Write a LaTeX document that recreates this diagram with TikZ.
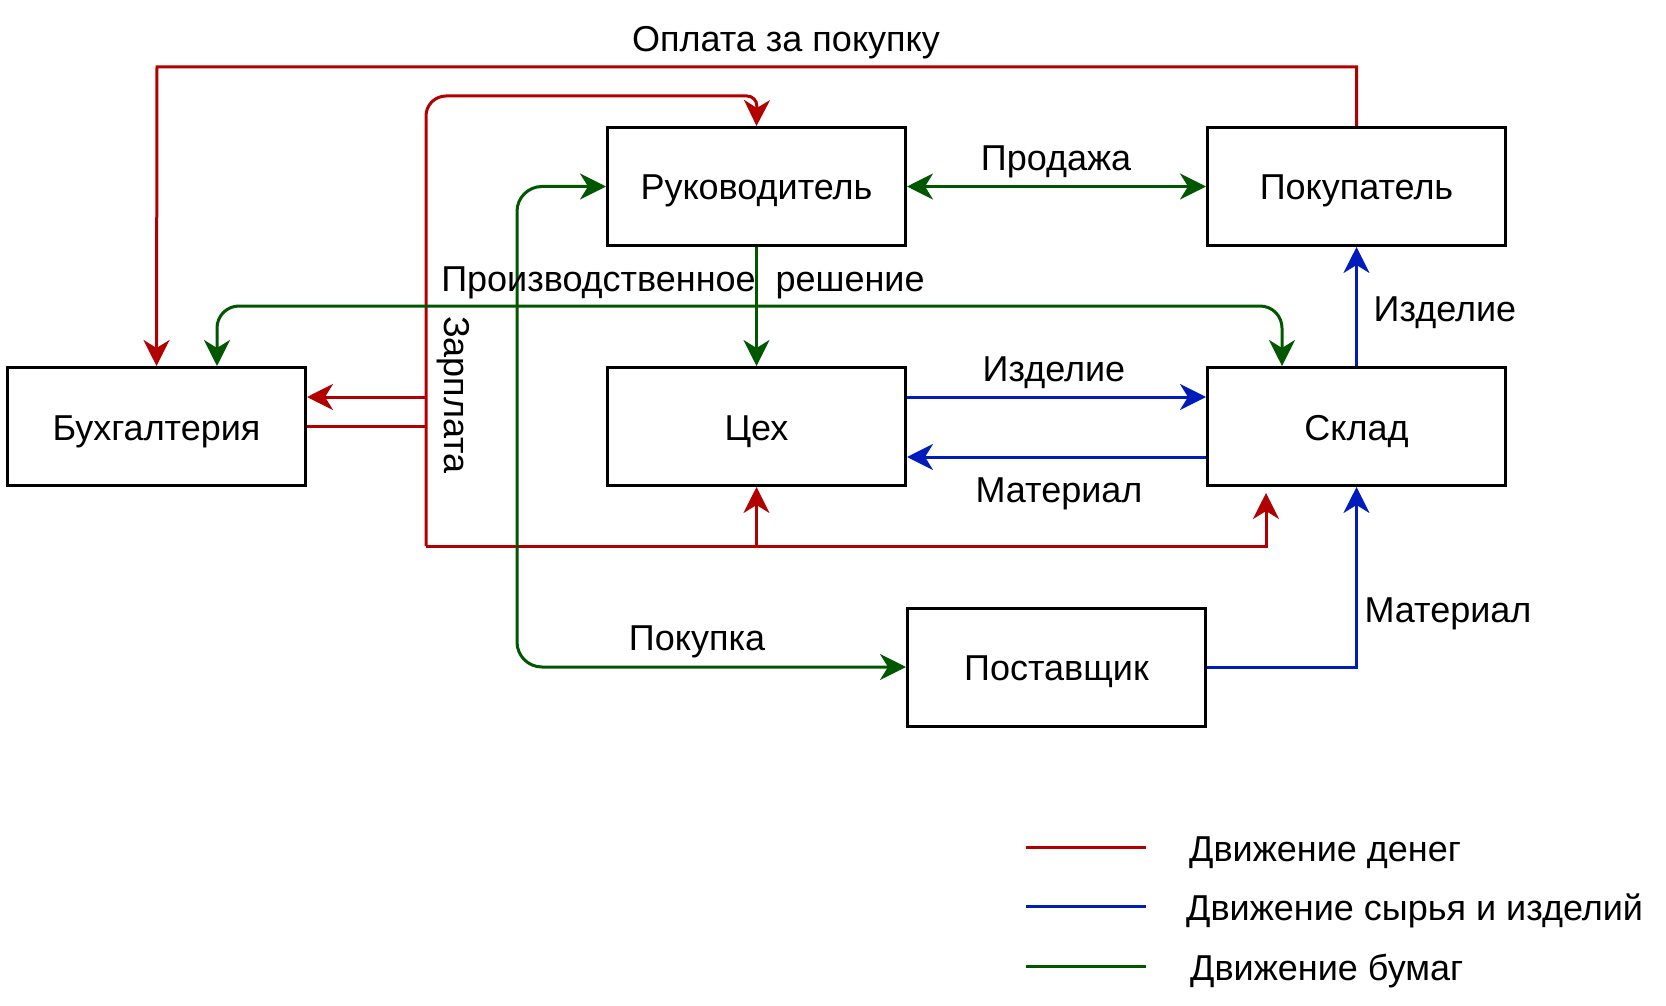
\documentclass[tikz,border=0pt]{standalone}
\usepackage{fontspec}
\setmainfont{Liberation Sans}
\usetikzlibrary{arrows.meta}
\definecolor{cred}{HTML}{B20000}
\definecolor{cblue}{HTML}{001DBC}
\definecolor{cgreen}{HTML}{005700}
\begin{document}
\begin{tikzpicture}[x=1pt,y=-1pt,
  box/.style={draw=black,line width=3pt,minimum width=298pt,minimum height=118pt,inner sep=0pt,font=\fontsize{36pt}{43pt}\selectfont,text height=33pt,text depth=6pt},
  lbl/.style={font=\fontsize{36pt}{43pt}\selectfont,inner sep=0pt,text height=33pt,text depth=6pt},
  vlbl/.style={font=\fontsize{36pt}{43pt}\selectfont,inner sep=0pt},
  con/.style={line width=3pt},
  tipend/.style={-{Stealth[length=26pt,width=26pt,inset=8pt]}},
  tipboth/.style={{Stealth[length=26pt,width=26pt,inset=8pt]}-{Stealth[length=26pt,width=26pt,inset=8pt]}},
]
\useasboundingbox[fill=white] (0,0) rectangle (1666,1006);

% boxes
\node[box] (ruk) at (756.5,186.5) {Руководитель};
\node[box] (pok) at (1356.5,186.5) {Покупатель};
\node[box] (buh) at (156.5,426.5) {Бухгалтерия};
\node[box] (ceh) at (756.5,426.5) {Цех};
\node[box] (skl) at (1356.5,426.5) {Склад};
\node[box] (post) at (1056.5,667) {Поставщик};

% helper coordinates
\coordinate (o1) at (157,67);
\coordinate (zc) at (426,426.5);
\coordinate (zt) at (426,96);
\coordinate (zr) at (757,96);
\coordinate (zb) at (426,546);
\coordinate (za) at (426,397);
\coordinate (sb) at (1266,546);
\coordinate (st) at (1266,493);
\coordinate (cb) at (756.5,546);
\coordinate (gl) at (217,306);
\coordinate (gr) at (1282,306);
\coordinate (gv1) at (517,186.5);
\coordinate (gv2) at (517,667);
\coordinate (bl) at (1356.5,667);

% red: money
\draw[con,cred,tipend] (pok.north) |- (o1) -- (buh.north);
\draw[con,cred] (buh.east) -- (zc);
\draw[con,cred,tipend] (zb) [rounded corners=20pt]-- (zt) [rounded corners=10pt]-- (zr) -- (ruk.north);
\draw[con,cred,tipend] (za) -- (za -| buh.east);
\draw[con,cred,tipend] (zb) -- (sb) -- (st);
\draw[con,cred,tipend] (cb) -- (ceh.south);

% green: papers
\draw[con,cgreen,tipboth] (ruk.east) -- (pok.west);
\draw[con,cgreen,tipend] (ruk.south) -- (ceh.north);
\draw[con,cgreen,tipboth,rounded corners=22pt] (gl |- buh.north) -- (gl) -- (gr) -- (gr |- skl.north);
\draw[con,cgreen,tipboth,rounded corners=25pt] (ruk.west) -- (gv1) -- (gv2) -- (post.west);

% blue: materials
\draw[con,cblue,tipend] (ceh.east |- 0,397) -- (skl.west |- 0,397);
\draw[con,cblue,tipend] (skl.west |- 0,457) -- (ceh.east |- 0,457);
\draw[con,cblue,tipend] (skl.north) -- (pok.south);
\draw[con,cblue,tipend] (post.east) -- (bl) -- (skl.south);

% labels
\node[lbl] (l1) at (786,38) {Оплата за покупку};
\node[vlbl,rotate=-90] (l2) at (453,395) {Зарплата};
\node[lbl] (l3) at (683,278) {Производственное\ \ решение};
\node[lbl] (l4) at (1056,157) {Продажа};
\node[lbl] (l5) at (1054,368) {Изделие};
\node[lbl] (l6) at (1059,489) {Материал};
\node[lbl] (l7) at (1445,308) {Изделие};
\node[lbl] (l8) at (1448,609) {Материал};
\node[lbl] (l9) at (697,637) {Покупка};

% legend
\coordinate (k1a) at (1026,847); \coordinate (k1b) at (1146,847);
\coordinate (k2a) at (1026,906); \coordinate (k2b) at (1146,906);
\coordinate (k3a) at (1026,966); \coordinate (k3b) at (1146,966);
\draw[con,cred] (k1a) -- (k1b);
\draw[con,cblue] (k2a) -- (k2b);
\draw[con,cgreen] (k3a) -- (k3b);
\node[lbl,anchor=west] (t1) at (1189,848) {Движение денег};
\node[lbl,anchor=west] (t2) at (1186,907) {Движение сырья и изделий};
\node[lbl,anchor=west] (t3) at (1190,967) {Движение бумаг};
\end{tikzpicture}
\end{document}
